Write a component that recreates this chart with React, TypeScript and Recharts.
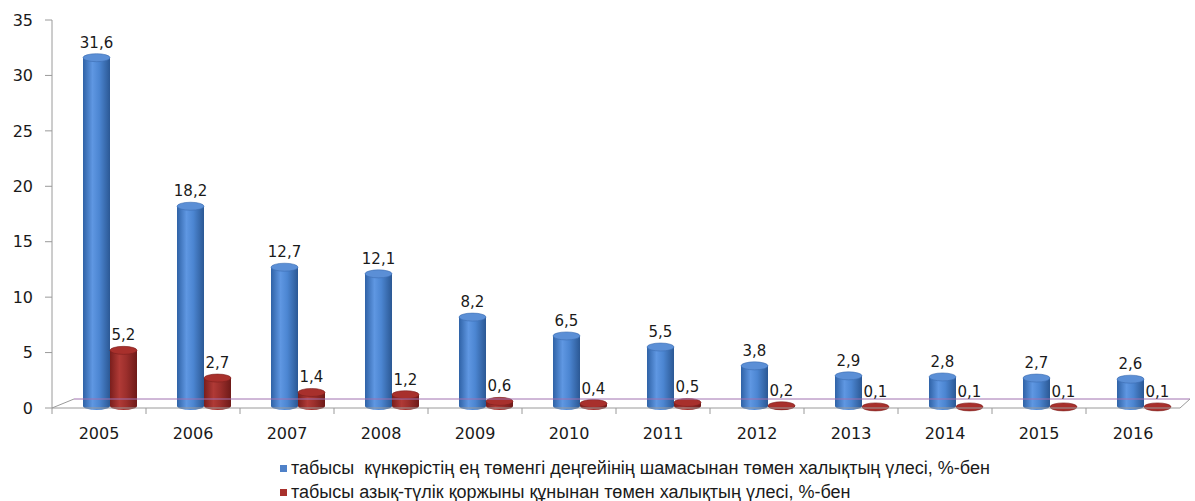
import React from "react"
import {
  BarChart,
  Bar,
  XAxis,
  YAxis,
  LabelList,
  Legend,
  ReferenceLine,
} from "recharts"

const years = ["2005", "2006", "2007", "2008", "2009", "2010", "2011", "2012", "2013", "2014", "2015", "2016"]
const subsistence = [31.6, 18.2, 12.7, 12.1, 8.2, 6.5, 5.5, 3.8, 2.9, 2.8, 2.7, 2.6]
const foodBasket = [5.2, 2.7, 1.4, 1.2, 0.6, 0.4, 0.5, 0.2, 0.1, 0.1, 0.1, 0.1]
const yTicks = [0, 5, 10, 15, 20, 25, 30, 35]

const seriesNames = [
  "табысы  күнкөрістің ең төменгі деңгейінің шамасынан төмен халықтың үлесі, %-бен",
  "табысы азық-түлік қоржыны құнынан төмен халықтың үлесі, %-бен",
]

const data = years.map((year, i) => ({
  year,
  a: subsistence[i],
  b: foodBasket[i],
}))

const SHIFT = 11
const FONT = "'DejaVu Sans', Verdana, sans-serif"

const fmt = (v: number) => String(v).replace(".", ",")

function cylinder(gradId: string, topFill: string, edge: string) {
  return (props: any) => {
    const { x, y, width, height } = props
    if (height == null || width == null) return <g />
    const rx = width / 2
    const ry = 4
    const cx = x + SHIFT + rx
    const bottom = y + height - 2
    return (
      <g>
        <path
          d={`M${x + SHIFT},${y} L${x + SHIFT},${bottom} A${rx},${ry} 0 0 0 ${x + SHIFT + width},${bottom} L${x + SHIFT + width},${y} Z`}
          fill={`url(#${gradId})`}
        />
        <ellipse cx={cx} cy={y} rx={rx} ry={ry} fill={topFill} stroke={edge} strokeWidth={0.6} />
      </g>
    )
  }
}

const valueLabel = (props: any) => {
  const { x, y, width, value } = props
  return (
    <text
      x={x + SHIFT + width / 2}
      y={y - 10}
      textAnchor="middle"
      fontFamily={FONT}
      fontSize={15}
      fill="#1a1a1a"
    >
      {fmt(value)}
    </text>
  )
}

const XTick = (props: any) => {
  const { x, y, payload } = props
  return (
    <g>
      <line x1={x - 47} y1={y} x2={x - 47} y2={y + 6} stroke="#9a9a9a" />
      <text x={x} y={y + 31} textAnchor="middle" fontFamily={FONT} fontSize={16} fill="#1a1a1a">
        {payload.value}
      </text>
    </g>
  )
}

const Floor = (props: any) => {
  const { x1, y1, x2, y2 } = props
  if (x1 == null) return <g />
  return (
    <g>
      <line x1={x1} y1={y1} x2={x1 + 22} y2={y1 - 9} stroke="#9a9a9a" />
      <line x1={x1 + 22} y1={y1 - 9} x2={x2 + 10} y2={y2 - 9} stroke="#a070b0" />
      <line x1={x2} y1={y2} x2={x2 + 10} y2={y2 - 9} stroke="#9a9a9a" />
    </g>
  )
}

const LegendBox = () => (
  <div style={{ fontFamily: "'Liberation Sans', Arial, sans-serif", fontSize: 18, color: "#1a1a1a" }}>
    {seriesNames.map((name, i) => (
      <div key={i} style={{ display: "flex", alignItems: "center", height: 24 }}>
        <span
          style={{
            width: 7,
            height: 7,
            background: i === 0 ? "#4f81c8" : "#a8302c",
            marginRight: 4,
            display: "inline-block",
          }}
        />
        <span style={{ whiteSpace: "pre" }}>{name}</span>
      </div>
    ))}
  </div>
)

export default function App() {
  return (
    <div style={{ position: "absolute", left: 0, top: 0, background: "#fff" }}>
      <BarChart
        width={1195}
        height={501}
        data={data}
        margin={{ top: 20, right: 15, bottom: 15, left: 0 }}
        barSize={27}
        barGap={0}
      >
        <defs>
          <linearGradient id="blueCyl" x1="0" y1="0" x2="1" y2="0">
            <stop offset="0%" stopColor="#2f62a6" />
            <stop offset="35%" stopColor="#5f97e2" />
            <stop offset="60%" stopColor="#4c86d2" />
            <stop offset="100%" stopColor="#2b5894" />
          </linearGradient>
          <linearGradient id="redCyl" x1="0" y1="0" x2="1" y2="0">
            <stop offset="0%" stopColor="#7a1e1c" />
            <stop offset="35%" stopColor="#b03a36" />
            <stop offset="60%" stopColor="#9c2f2c" />
            <stop offset="100%" stopColor="#6e1a18" />
          </linearGradient>
        </defs>
        <XAxis
          dataKey="year"
          axisLine={{ stroke: "#9a9a9a" }}
          tickLine={false}
          tickSize={0}
          tickMargin={0}
          height={30}
          tick={<XTick />}
        />
        <YAxis
          domain={[0, 35]}
          ticks={yTicks}
          width={52}
          axisLine={{ stroke: "#9a9a9a" }}
          tickLine={{ stroke: "#9a9a9a" }}
          tickSize={7}
          tickMargin={12}
          tick={{ fontFamily: FONT, fontSize: 16, fill: "#1a1a1a" }}
        />
        <ReferenceLine y={0} shape={<Floor />} ifOverflow="visible" />
        <Bar dataKey="a" name={seriesNames[0]} isAnimationActive={false} shape={cylinder("blueCyl", "#5b8fd6", "#3a6cb0")}>
          <LabelList dataKey="a" content={valueLabel} />
        </Bar>
        <Bar dataKey="b" name={seriesNames[1]} isAnimationActive={false} shape={cylinder("redCyl", "#a8302c", "#7a1e1c")}>
          <LabelList dataKey="b" content={valueLabel} />
        </Bar>
        <Legend
          content={<LegendBox />}
          wrapperStyle={{ position: "absolute", left: 280, top: 456, width: "auto" }}
        />
      </BarChart>
    </div>
  )
}
